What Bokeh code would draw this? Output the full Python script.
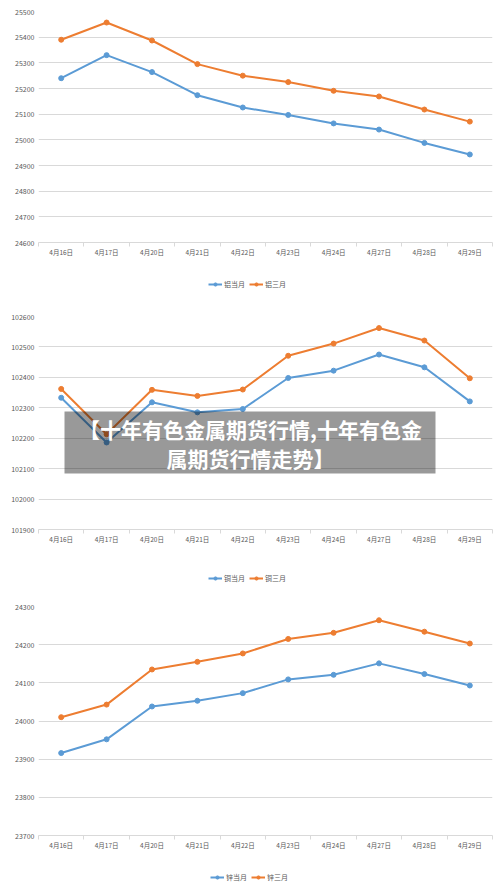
import numpy as np
from bokeh.plotting import figure
from bokeh.models import (Range1d, FixedTicker, Legend, LegendItem, BoxAnnotation, Label,
                          BasicTickFormatter)
from bokeh.layouts import column
from bokeh.embed import file_html
from bokeh.resources import INLINE
from bokeh.core.properties import value

# ---------------- data ----------------
dates = ["4月16日", "4月17日", "4月20日", "4月21日", "4月22日",
         "4月23日", "4月24日", "4月27日", "4月28日", "4月29日"]

al_names = ["铝当月", "铝三月"]
al_cur = [25240, 25330, 25264, 25174, 25126, 25097, 25064, 25040, 24988, 24943]
al_3m = [25390, 25457, 25387, 25295, 25250, 25225, 25191, 25169, 25118, 25071]
al_ticks = [24600, 24700, 24800, 24900, 25000, 25100, 25200, 25300, 25400, 25500]

cu_names = ["铜当月", "铜三月"]
cu_cur = [102333, 102186, 102318, 102285, 102296, 102398, 102422, 102475, 102433, 102321]
cu_3m = [102362, 102213, 102359, 102339, 102360, 102471, 102511, 102562, 102521, 102397]
cu_ticks = [101900, 102000, 102100, 102200, 102300, 102400, 102500, 102600]

zn_names = ["锌当月", "锌三月"]
zn_cur = [23916, 23952, 24038, 24053, 24073, 24109, 24121, 24151, 24123, 24093]
zn_3m = [24010, 24043, 24135, 24155, 24177, 24215, 24231, 24264, 24234, 24203]
zn_ticks = [23700, 23800, 23900, 24000, 24100, 24200, 24300]

title_lines = ["【十年有色金属期货行情,十年有色金", "属期货行情走势】"]

# ---------------- style ----------------
FONT = "Noto Sans CJK SC"
BLUE = "#5b9bd5"
ORANGE = "#ed7d31"
GRID = "#d9d9d9"
TXT = "#595959"
COLORS = [BLUE, ORANGE]


def make_chart(cur, three, ticks, height, b_left, b_right, b_top, b_bottom):
    n = len(dates)
    xs = np.arange(n) + 0.5
    p = figure(width=500, height=height,
               x_range=Range1d(0, n), y_range=Range1d(ticks[0], ticks[-1]),
               output_backend="svg", toolbar_location=None,
               min_border_left=b_left, min_border_right=b_right,
               min_border_top=b_top, min_border_bottom=b_bottom)
    p.outline_line_color = None
    p.background_fill_color = "white"
    p.border_fill_color = "white"

    p.xgrid.visible = False
    p.ygrid.grid_line_color = GRID
    p.ygrid.grid_line_width = 1

    p.yaxis.ticker = FixedTicker(ticks=ticks)
    p.yaxis.formatter = BasicTickFormatter(use_scientific=False)
    p.yaxis.axis_line_color = None
    p.yaxis.major_tick_line_color = None
    p.yaxis.minor_tick_line_color = None
    p.yaxis.major_tick_out = 0
    p.yaxis.major_tick_in = 0
    p.yaxis.major_label_standoff = 4
    p.yaxis.major_label_text_font = FONT
    p.yaxis.major_label_text_font_size = "7px"
    p.yaxis.major_label_text_color = TXT

    p.xaxis.ticker = FixedTicker(ticks=list(xs), minor_ticks=list(range(n + 1)))
    p.xaxis.major_label_overrides = {float(x): d for x, d in zip(xs, dates)}
    p.xaxis.axis_line_color = GRID
    p.xaxis.major_tick_line_color = None
    p.xaxis.major_tick_out = 0
    p.xaxis.major_tick_in = 0
    p.xaxis.minor_tick_line_color = GRID
    p.xaxis.minor_tick_out = 4
    p.xaxis.minor_tick_in = 0
    p.xaxis.major_label_standoff = 0
    p.xaxis.major_label_text_font = FONT
    p.xaxis.major_label_text_font_size = "6.5px"
    p.xaxis.major_label_text_color = TXT

    for ys, c in zip([cur, three], COLORS):
        p.line(xs, ys, line_color=c, line_width=2, line_join="round")
        p.scatter(xs, ys, size=5, fill_color=c, line_color=c)
    return p


def make_legend(cur, three, names, height, lx, ly):
    # a strip holding only the legend; its series lie outside the strip's ranges
    n = len(dates)
    xs = np.arange(n) + 0.5
    q = figure(width=500, height=height, x_range=Range1d(0, 1), y_range=Range1d(0, 1),
               x_axis_type=None, y_axis_type=None,
               output_backend="svg", toolbar_location=None,
               min_border=0)
    q.outline_line_color = None
    q.xgrid.visible = False
    q.ygrid.visible = False
    items = []
    for ys, nm, c in zip([cur, three], names, COLORS):
        rl = q.line(xs, ys, line_color=c, line_width=2)
        rs = q.scatter(xs, ys, size=5, fill_color=c, line_color=c)
        items.append(LegendItem(label=value(nm), renderers=[rl, rs]))
    legend = Legend(items=items, orientation="horizontal", location=(lx, ly),
                    label_text_font=FONT, label_text_font_size="7px",
                    label_text_color=TXT, glyph_width=14, glyph_height=8,
                    label_width=10, label_height=10,
                    label_standoff=2, spacing=4, padding=2, margin=0,
                    border_line_color=None, background_fill_alpha=0)
    q.add_layout(legend, "center")
    return q


p1 = make_chart(al_cur, al_3m, al_ticks, 262, 34, 8, 11, 20)
l1 = make_legend(al_cur, al_3m, al_names, 35, 170, 8)
p2 = make_chart(cu_cur, cu_3m, cu_ticks, 255, 38, 6, 19, 23)
l2 = make_legend(cu_cur, cu_3m, cu_names, 40, 170, 9)
p3 = make_chart(zn_cur, zn_3m, zn_ticks, 262, 34, 3, 14, 19)
l3 = make_legend(zn_cur, zn_3m, zn_names, 31, 172, 3)

# overlay title box on the middle chart
p2.add_layout(BoxAnnotation(left=26, right=397, bottom=56, top=118,
                            left_units="screen", right_units="screen",
                            bottom_units="screen", top_units="screen",
                            fill_color="black", fill_alpha=0.4,
                            line_color=None))
for txt, yy in zip(title_lines, [101, 72]):
    p2.add_layout(Label(x=212, y=yy, x_units="screen", y_units="screen",
                        text=txt, text_align="center", text_baseline="middle",
                        text_font=FONT, text_font_style="bold",
                        text_font_size="21px", text_color="white"))

layout = column(p1, l1, p2, l2, p3, l3, spacing=0)
open("out.html", "w").write(file_html(layout, INLINE))
